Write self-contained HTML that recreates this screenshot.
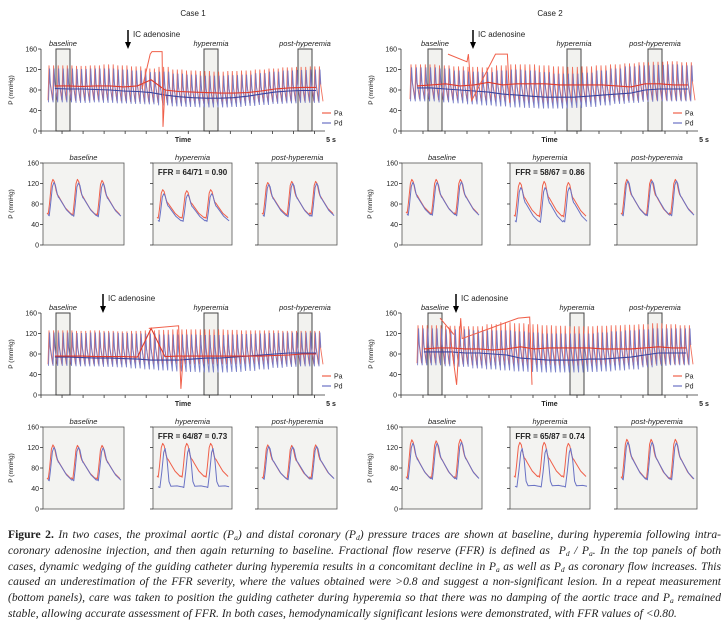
<!DOCTYPE html>
<html><head><meta charset="utf-8">
<style>
body{margin:0;background:#fff;width:725px;height:627px;overflow:hidden;position:relative;font-family:"Liberation Sans",sans-serif}
svg{position:absolute;left:0;top:0}
#cap{position:absolute;left:8px;top:527px;width:713px;font-family:"Liberation Serif",serif;font-style:italic;font-size:11.6px;line-height:15.8px;color:#222;white-space:nowrap}
#cap div{text-align:justify;text-align-last:justify;white-space:normal;height:15.8px;overflow:hidden}
#cap div.last{text-align-last:left}
#cap b{font-style:normal}
#cap sub{font-size:7.5px;vertical-align:-2px;line-height:0}
</style></head><body>
<svg id="fig" width="725" height="527" viewBox="0 0 725 527"></svg>
<div id="cap">
<div><b>Figure 2.</b> In two cases, the proximal aortic (P<sub>a</sub>) and distal coronary (P<sub>d</sub>) pressure traces are shown at baseline, during hyperemia following intra-</div>
<div>coronary adenosine injection, and then again returning to baseline. Fractional flow reserve (FFR) is defined as &nbsp;P<sub>d</sub> / P<sub>a</sub>. In the top panels of both</div>
<div>cases, dynamic wedging of the guiding catheter during hyperemia results in a concomitant decline in P<sub>a</sub> as well as P<sub>d</sub> as coronary flow increases. This</div>
<div>caused an underestimation of the FFR severity, where the values obtained were &gt;0.8 and suggest a non-significant lesion. In a repeat measurement</div>
<div>(bottom panels), care was taken to position the guiding catheter during hyperemia so that there was no damping of the aortic trace and P<sub>a</sub> remained</div>
<div class="last">stable, allowing accurate assessment of FFR. In both cases, hemodynamically significant lesions were demonstrated, with FFR values of &lt;0.80.</div>
</div>
<script>
// ---- data: top traces (20 groups, 3 beats each) ----
const c1tPaSys=[128,128,127,128,130,128,126,122,125,120,118,117,116,117,118,120,122,124,125,126];
const c1tPaDia=[60,60,59,60,60,58,57,56,55,54,54,53,53,54,55,56,57,58,58,58];
const c1tPdSys=[122,122,121,122,122,120,118,115,116,112,110,108,108,109,110,113,116,118,119,120];
const c1tPdDia=[56,56,55,56,55,54,53,52,50,48,47,46,46,47,49,51,53,54,55,55];
const c1tPaMean=[88,88,87,88,88,86,88,100,80,77,76,75,74,74,75,78,82,84,85,85];
const c1tPdMean=[83,82,82,81,80,78,77,75,70,67,65,64,64,65,68,72,76,78,79,79];
const c1tArt=[[20.5,82],[22.3,150],[22.7,155],[24.9,155],[25.1,8],[25.5,80]];

const c2tPaSys=[130,130,128,126,125,124,128,130,130,128,126,125,126,128,130,132,134,135,136,134];
const c2tPaDia=[62,62,60,60,58,58,57,56,55,54,54,55,56,57,58,59,60,60,60,60];
const c2tPdSys=[124,124,122,118,116,115,118,120,118,115,112,112,114,118,122,126,128,129,130,128];
const c2tPdDia=[58,58,56,54,52,50,48,46,45,44,44,45,47,50,53,55,57,58,58,58];
const c2tPaMean=[88,90,92,88,90,95,90,92,92,92,90,90,90,90,88,86,92,92,90,90];
const c2tPdMean=[84,84,82,80,78,76,72,70,68,66,66,66,68,70,72,74,80,82,82,82];
const c2tArt=[[8,150],[12,135],[12.3,150],[13,60],[18,150],[20.5,150],[21,55]];

const c1bPaSys=[126,126,125,126,125,124,125,126,127,128,128,128,128,127,126,126,126,125,125,125];
const c1bPaDia=[60,60,60,60,60,60,60,60,60,60,60,60,60,60,60,60,60,60,60,60];
const c1bPdSys=[122,122,121,122,122,121,120,120,118,118,118,117,117,118,119,120,121,122,122,122];
const c1bPdDia=[57,57,56,56,55,54,52,50,48,46,45,44,44,45,47,50,53,55,56,56];
const c1bPaMean=[76,76,76,75,75,75,74,130,75,76,76,76,76,76,76,76,77,78,80,80];
const c1bPdMean=[74,74,73,72,72,71,70,68,68,68,70,72,72,74,76,78,80,82,82,82];
const c1bArt=[[22,130],[28.5,135],[29,12],[29.5,75]];

const c2bPaSys=[136,136,135,134,134,138,142,140,138,136,135,134,134,135,136,137,138,140,138,136];
const c2bPaDia=[62,62,60,60,58,58,58,58,58,58,57,57,57,58,58,58,58,60,60,60];
const c2bPdSys=[130,130,128,128,126,126,126,124,122,120,120,120,120,122,124,126,128,130,130,130];
const c2bPdDia=[58,58,56,55,52,50,48,46,45,44,44,44,45,46,48,50,54,57,58,58];
const c2bPaMean=[90,92,92,90,90,88,90,94,90,92,92,92,92,90,90,90,92,94,92,92];
const c2bPdMean=[84,84,84,82,82,80,78,72,70,68,68,68,70,70,72,74,78,82,82,82];
const c2bArt=[[5,150],[8,118],[7,130],[8.6,20],[9.5,150],[9.8,110],[22,150],[24.5,152],[25,20]];

// ---- data: small panels [sys, dia] per beat (3 beats) ----
const s1Base={pa:[[128,60],[128,58],[126,58]],pd:[[122,57],[121,56],[120,55]]};
const s1Hyp={pa:[[108,52],[106,52],[108,52]],pd:[[100,46],[98,46],[100,46]]};
const s1Post={pa:[[122,60],[124,58],[124,60]],pd:[[118,56],[120,55],[120,56]]};
const s2Base={pa:[[128,62],[128,60],[128,60]],pd:[[122,58],[122,58],[123,57]]};
const s2Hyp={pa:[[122,56],[124,55],[122,55]],pd:[[112,45],[112,44],[112,45]]};
const s2Post={pa:[[128,60],[128,58],[128,60]],pd:[[125,57],[125,57],[125,57]]};
const s3Base={pa:[[125,58],[124,58],[124,58]],pd:[[120,55],[120,55],[119,55]]};
const s3Hyp={pa:[[128,62],[128,62],[128,62]],pd:[[118,42],[118,42],[118,42]]};
const s3Post={pa:[[125,60],[124,58],[125,60]],pd:[[122,58],[121,57],[122,58]]};
const s4Base={pa:[[135,60],[133,60],[136,60]],pd:[[128,58],[128,58],[130,58]]};
const s4Hyp={pa:[[130,62],[130,62],[128,62]],pd:[[118,43],[117,43],[118,43]]};
const s4Post={pa:[[136,60],[136,58],[136,58]],pd:[[130,57],[130,57],[129,57]]};
const yTicks=[0,40,80,120,160];

const NS="http://www.w3.org/2000/svg";
const svg=document.getElementById('fig');
function el(t,a,p){const e=document.createElementNS(NS,t);for(const k in a)e.setAttribute(k,a[k]);(p||svg).appendChild(e);return e;}
function txt(s,x,y,a,p){const e=el('text',Object.assign({x:x,y:y,'font-family':'Liberation Sans, sans-serif','font-size':7,fill:'#222'},a||{}),p);e.textContent=s;return e;}
const RED='#f0604a',BLUE='#6a72c4';
const topTpl=[[0,0],[0.22,1],[0.4,0.55],[1,0]];
const paTpl=[[0,0.04],[0.05,0],[0.1,0.3],[0.18,0.88],[0.24,1],[0.3,0.93],[0.37,0.68],[0.42,0.56],[0.46,0.53],[0.55,0.42],[0.75,0.18],[0.97,0.02]];
const pdHypTpl=[[0,0.02],[0.08,0],[0.16,0.4],[0.24,0.9],[0.3,1],[0.38,0.7],[0.46,0.15],[0.54,0.03],[0.8,0.04],[0.97,0.02]];

function topPanel(P){
  const g=el('g',{},svg);
  
  
  const ys=v=>P.yB-(v/160)*(P.yB-P.yT);
  const xs=t=>P.tx0+(t/60)*(P.tx1-P.tx0);
  [['baseline',P.bx[0]],['hyperemia',P.bx[1]],['post-hyperemia',P.bx[2]]].forEach(([n,x])=>{
    const r=el('rect',{x:x,y:P.yT,width:14,height:P.yB-P.yT,fill:'#f2f2ef',stroke:'#444','stroke-width':1},g);
    
    const t=txt(n,x+7,P.yT-3,{'text-anchor':'middle','font-style':'italic','font-size':7.5},g);
    
  });
  function trace(sys,dia,shift,col,name){
    let pts=[];
    for(let b=0;b<60;b++){const i=Math.floor(b/3);for(const [ph,f] of topTpl){const t=b+ph+shift;if(t>60)continue;pts.push(xs(t).toFixed(1)+','+ys(dia[i]+f*(sys[i]-dia[i])).toFixed(1));}}
    const l=el('polyline',{points:pts.join(' '),fill:'none',stroke:col,'stroke-width':0.9,'stroke-opacity':0.9},g);
    
  }
  trace(P.paSys,P.paDia,0,RED,'pa-trace');
  trace(P.pdSys,P.pdDia,0.12,BLUE,'pd-trace');
  function mean(arr,col,name){
    const pts=arr.map((v,i)=>xs(i*3+1.5).toFixed(1)+','+ys(v).toFixed(1));
    const l=el('polyline',{points:pts.join(' '),fill:'none',stroke:col,'stroke-width':1.1},g);
    
  }
  mean(P.pdMean,'#3a44a0','pd-mean');
  mean(P.paMean,'#e03a2a','pa-mean');
  const a=el('polyline',{points:P.art.map(p=>xs(p[0]).toFixed(1)+','+ys(p[1]).toFixed(1)).join(' '),fill:'none',stroke:RED,'stroke-width':1},g);
  
  const ya=el('line',{x1:P.ax,y1:P.yT,x2:P.ax,y2:P.yB,stroke:'#333','stroke-width':0.8},g);
  
  const xa=el('line',{x1:P.ax,y1:P.yB,x2:P.ex,y2:P.yB,stroke:'#333','stroke-width':0.8},g);
  
  yTicks.forEach(v=>{el('line',{x1:P.ax-3,y1:ys(v),x2:P.ax,y2:ys(v),stroke:'#333','stroke-width':0.8},g);
    const t=txt(String(v),P.ax-4,ys(v)+2.5,{'text-anchor':'end'},g);});
  for(let x=P.ax;x<=P.ex+1;x+=(P.ex-P.ax)/13.5){el('line',{x1:x,y1:P.yB,x2:x,y2:P.yB+3,stroke:'#333','stroke-width':0.8},g);}
  const yt=txt('P (mmHg)',0,0,{transform:`translate(${P.ax-28},${(P.yT+P.yB)/2}) rotate(-90)`,'text-anchor':'middle','font-size':6.5},g);
  
  const tt=txt('Time',(P.ax+P.ex)/2,P.yB+11,{'text-anchor':'middle','font-size':7,'font-weight':'bold'},g);
  
  const fs=txt('5 s',P.ex+6,P.yB+11,{'text-anchor':'middle','font-size':7,'font-weight':'bold'},g);
  
  el('line',{x1:P.arrow,y1:P.yT-19,x2:P.arrow,y2:P.yT-5,stroke:'#000','stroke-width':1.5},g);
  const ah=el('polygon',{points:`${P.arrow-3},${P.yT-7} ${P.arrow+3},${P.yT-7} ${P.arrow},${P.yT}`,fill:'#000'},g);
  
  const ic=txt('IC adenosine',P.arrow+5,P.yT-12,{'font-size':8},g);
  
  [['Pa',RED,0],['Pd',BLUE,10]].forEach(([n,c,dy])=>{
    const lg=el('g',{},g);
    el('line',{x1:P.lx,y1:P.ly+dy,x2:P.lx+9,y2:P.ly+dy,stroke:c,'stroke-width':1.2},lg);
    txt(n,P.lx+12,P.ly+dy+2.5,{'font-size':7},lg);
  });
}
function smallPanel(S){
  const g=el('g',{},svg);
  
  
  const w=S.x1-S.x0,yT=S.y,yB=S.y+82;
  const ys=v=>yB-(v/160)*(yB-yT);
  const bw=w/3.3, st=S.x0+4;
  const r=el('rect',{x:S.x0,y:yT,width:w,height:yB-yT,fill:'#f3f3f1',stroke:'#555','stroke-width':0.8},g);
  
  const lb=txt(S.label,S.x0+w/2,yT-3,{'text-anchor':'middle','font-style':'italic','font-size':7.5},g);
  
  if(S.ffr){const f=txt(S.ffr,S.x0+w/2,yT+12,{'text-anchor':'middle','font-weight':'bold','font-size':8},g);}
  function tr(d,tpl,shift,col,name){
    let pts=[];
    d.forEach((b,i)=>{tpl.forEach(([ph,f])=>{pts.push((st+(i+ph+shift)*bw).toFixed(1)+','+ys(b[1]+f*(b[0]-b[1])).toFixed(1));});});
    const l=el('polyline',{points:pts.join(' '),fill:'none',stroke:col,'stroke-width':1,'stroke-linejoin':'round'},g);
    
  }
  tr(S.d.pa,paTpl,0,RED,'pa-waveform');
  tr(S.d.pd,S.hyp?pdHypTpl:paTpl,0.04,BLUE,'pd-waveform');
  yTicks.forEach(v=>{el('line',{x1:S.x0-3,y1:ys(v),x2:S.x0,y2:ys(v),stroke:'#333','stroke-width':0.8},g);
    if(S.axis){const t=txt(String(v),S.x0-4,ys(v)+2.5,{'text-anchor':'end'},g);}});
  if(S.axis){const yt=txt('P (mmHg)',0,0,{transform:`translate(${S.x0-30},${(yT+yB)/2}) rotate(-90)`,'text-anchor':'middle','font-size':6.5},g);}
}
const t1=txt('Case 1',193,16,{'text-anchor':'middle','font-size':8});
const t2=txt('Case 2',550,16,{'text-anchor':'middle','font-size':8});

topPanel({name:'case1-top-trace',ax:41,ex:325,yT:49,yB:131,tx0:48,tx1:323,bx:[56,204,298],arrow:128,lx:322,ly:113,
  paSys:c1tPaSys,paDia:c1tPaDia,pdSys:c1tPdSys,pdDia:c1tPdDia,paMean:c1tPaMean,pdMean:c1tPdMean,art:c1tArt});
topPanel({name:'case2-top-trace',ax:401,ex:698,yT:49,yB:131,tx0:410,tx1:695,bx:[428,567,648],arrow:473,lx:673,ly:113,
  paSys:c2tPaSys,paDia:c2tPaDia,pdSys:c2tPdSys,pdDia:c2tPdDia,paMean:c2tPaMean,pdMean:c2tPdMean,art:c2tArt});
topPanel({name:'case1-bottom-trace',ax:41,ex:325,yT:313,yB:395,tx0:48,tx1:323,bx:[56,204,298],arrow:103,lx:322,ly:376,
  paSys:c1bPaSys,paDia:c1bPaDia,pdSys:c1bPdSys,pdDia:c1bPdDia,paMean:c1bPaMean,pdMean:c1bPdMean,art:c1bArt});
topPanel({name:'case2-bottom-trace',ax:401,ex:698,yT:313,yB:395,tx0:417,tx1:693,bx:[428,570,648],arrow:456,lx:673,ly:376,
  paSys:c2bPaSys,paDia:c2bPaDia,pdSys:c2bPdSys,pdDia:c2bPdDia,paMean:c2bPaMean,pdMean:c2bPdMean,art:c2bArt});

[[43,124,163,'baseline',s1Base,null,1,0],[153,232,163,'hyperemia',s1Hyp,'FFR = 64/71 = 0.90',0,0],[258,337,163,'post-hyperemia',s1Post,null,0,0],
 [402,482,163,'baseline',s2Base,null,1,0],[510,590,163,'hyperemia',s2Hyp,'FFR = 58/67 = 0.86',0,0],[617,697,163,'post-hyperemia',s2Post,null,0,0],
 [43,124,427,'baseline',s3Base,null,1,0],[153,232,427,'hyperemia',s3Hyp,'FFR = 64/87 = 0.73',0,1],[258,337,427,'post-hyperemia',s3Post,null,0,0],
 [402,482,427,'baseline',s4Base,null,1,0],[510,590,427,'hyperemia',s4Hyp,'FFR = 65/87 = 0.74',0,1],[617,697,427,'post-hyperemia',s4Post,null,0,0]
].forEach((a,i)=>smallPanel({name:'zoom-panel-'+a[3]+'-'+i,x0:a[0],x1:a[1],y:a[2],label:a[3],d:a[4],ffr:a[5],axis:a[6],hyp:a[7]}));
</script>
</body></html>
